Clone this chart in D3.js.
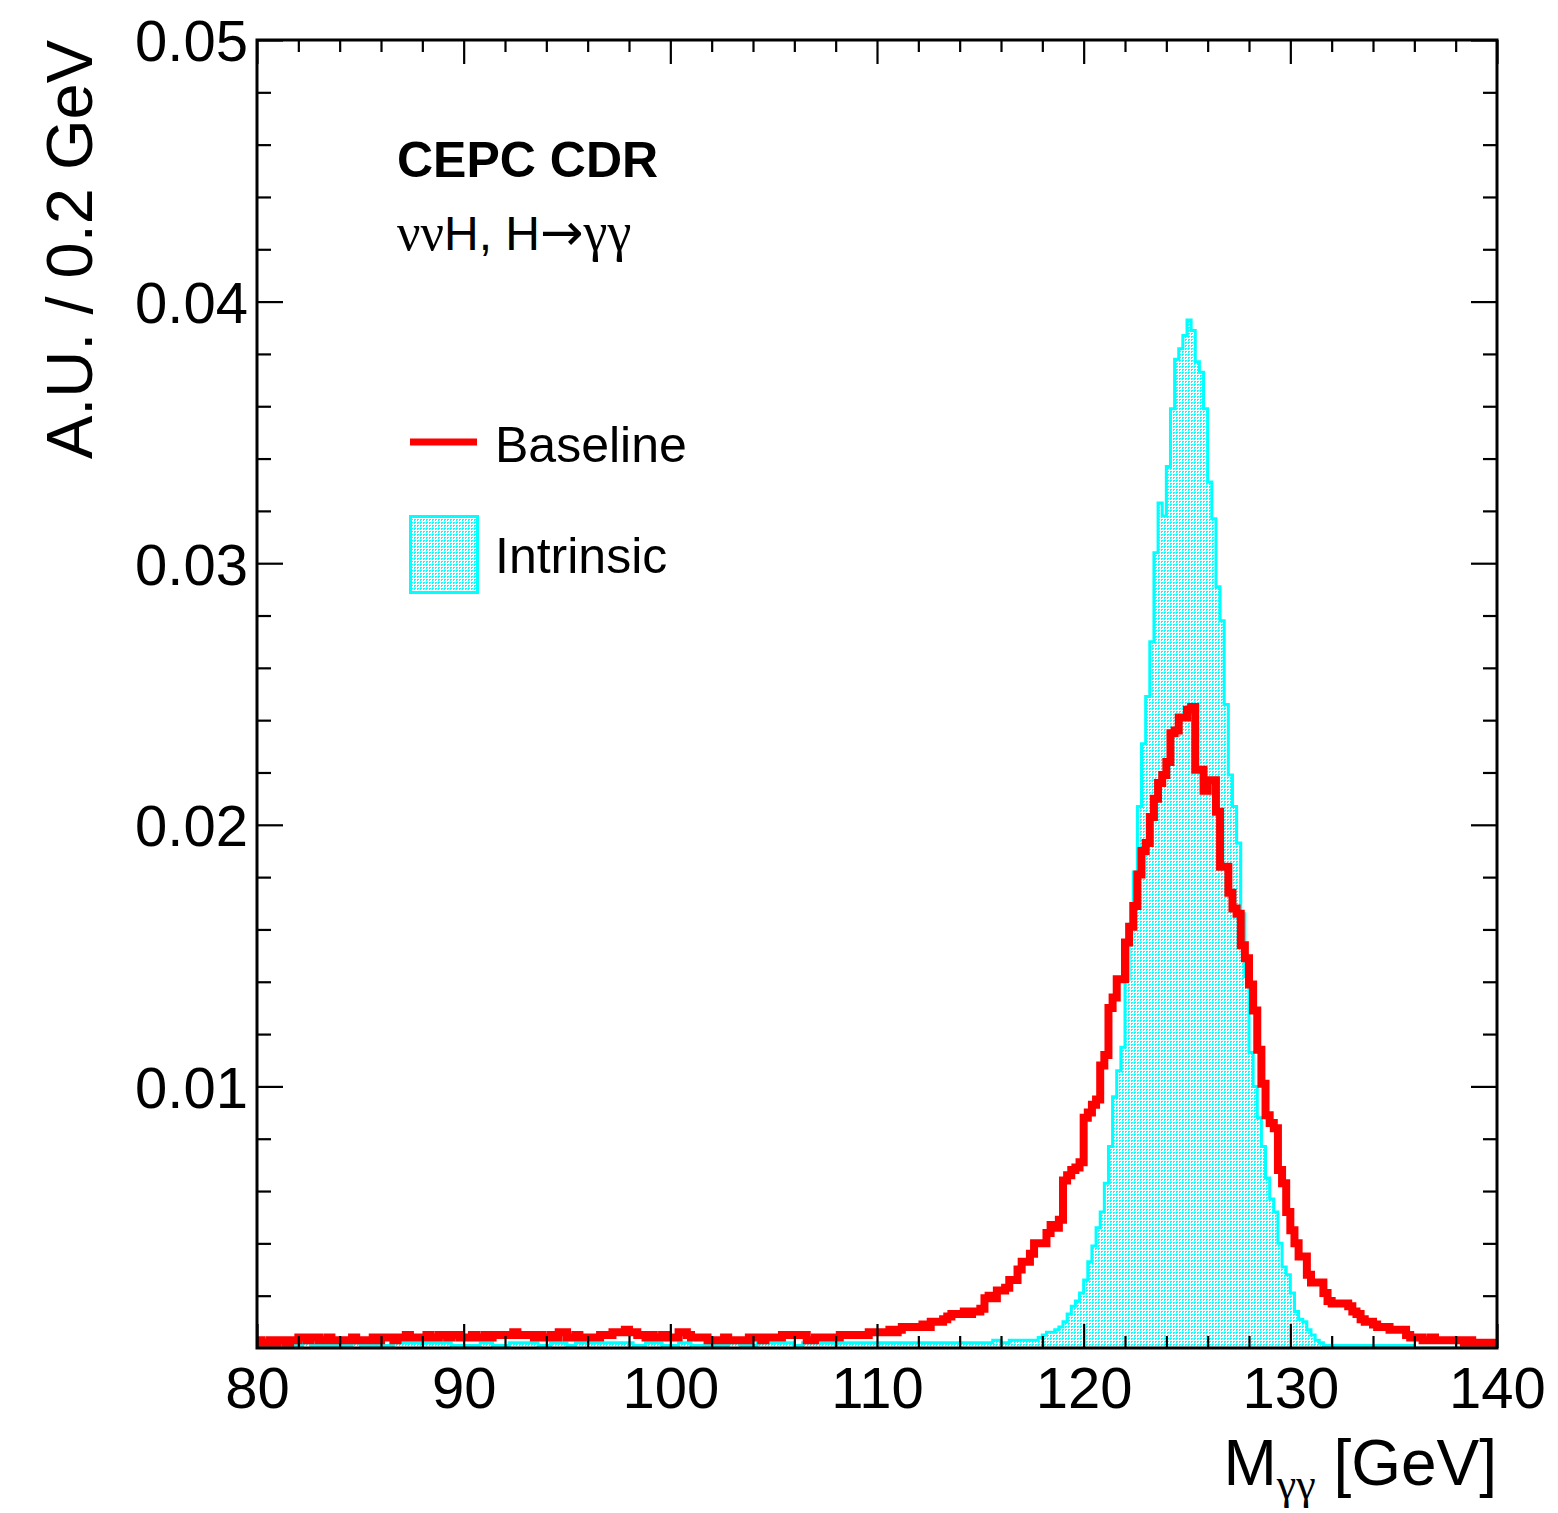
<!DOCTYPE html>
<html>
<head>
<meta charset="utf-8">
<script src="https://cdn.jsdelivr.net/npm/d3@7"></script>
<style>
  html, body { margin: 0; padding: 0; background: #fff; }
  svg { display: block; }
</style>
</head>
<body>
<svg id="chart" width="1558" height="1513"></svg>
<script>
// ---------------- data ----------------
const xMin = 80, xMax = 140, binWidth = 0.2;
const xTickLabels = [80, 90, 100, 110, 120, 130, 140];
const yTickLabels = [0.01, 0.02, 0.03, 0.04, 0.05];
const seriesNames = ["Baseline", "Intrinsic"];

// Baseline (red), one value per 0.2 GeV bin starting at 80 GeV
const baseline = [
  0.0003,0.0002,0.0002,0.0003,0.0002,0.0003,0.0003,0.0002,0.0003,0.0003, // 80-82
  0.0004,0.0004,0.0003,0.0004,0.0004,0.0003,0.0003,0.0004,0.0003,0.0003, // 82-84
  0.0003,0.0003,0.0003,0.0004,0.0003,0.0003,0.0003,0.0003,0.0004,0.0003, // 84-86
  0.0004,0.0004,0.0004,0.0003,0.0004,0.0004,0.0005,0.0004,0.0004,0.0004, // 86-88
  0.0004,0.0005,0.0004,0.0004,0.0005,0.0005,0.0004,0.0005,0.0005,0.0004, // 88-90
  0.0004,0.0004,0.0005,0.0004,0.0004,0.0005,0.0004,0.0005,0.0005,0.0005, // 90-92
  0.0005,0.0005,0.0006,0.0005,0.0005,0.0005,0.0005,0.0004,0.0005,0.0004, // 92-94
  0.0004,0.0005,0.0004,0.0006,0.0006,0.0004,0.0004,0.0005,0.0004,0.0004, // 94-96
  0.0004,0.0004,0.0004,0.0005,0.0005,0.0005,0.0006,0.0006,0.0006,0.0007, // 96-98
  0.0006,0.0006,0.0005,0.0005,0.0004,0.0005,0.0004,0.0004,0.0005,0.0004, // 98-100
  0.0004,0.0004,0.0006,0.0006,0.0005,0.0004,0.0004,0.0004,0.0004,0.0003, // 100-102
  0.0003,0.0003,0.0003,0.0004,0.0003,0.0003,0.0003,0.0003,0.0003,0.0004, // 102-104
  0.0004,0.0004,0.0003,0.0004,0.0004,0.0004,0.0004,0.0005,0.0005,0.0005, // 104-106
  0.0005,0.0005,0.0005,0.0003,0.0003,0.0004,0.0004,0.0004,0.0004,0.0004, // 106-108
  0.0004,0.0005,0.0005,0.0005,0.0005,0.0005,0.0005,0.0005,0.0006,0.0006, // 108-110
  0.0006,0.0006,0.0006,0.0007,0.0006,0.0007,0.0008,0.0008,0.0008,0.0008, // 110-112
  0.0008,0.0009,0.0008,0.0010,0.0010,0.0010,0.0011,0.0012,0.0013,0.0013, // 112-114
  0.0013,0.0014,0.0013,0.0014,0.0014,0.0015,0.0019,0.0020,0.0019,0.0022, // 114-116
  0.0022,0.0023,0.0026,0.0026,0.0030,0.0033,0.0033,0.0036,0.0040,0.0040, // 116-118
  0.0040,0.0044,0.0047,0.0046,0.0049,0.0064,0.0066,0.0068,0.0069,0.0071, // 118-120
  0.0088,0.0090,0.0093,0.0095,0.0108,0.0112,0.0130,0.0134,0.0141,0.0141, // 120-122
  0.0155,0.0161,0.0169,0.0181,0.0190,0.0193,0.0203,0.0210,0.0216,0.0219, // 122-124
  0.0224,0.0235,0.0236,0.0241,0.0241,0.0244,0.0245,0.0221,0.0221,0.0213, // 124-126
  0.0217,0.0217,0.0205,0.0184,0.0184,0.0174,0.0168,0.0166,0.0154,0.0149, // 126-128
  0.0139,0.0129,0.0114,0.0101,0.0089,0.0086,0.0084,0.0068,0.0063,0.0052, // 128-130
  0.0045,0.0040,0.0035,0.0035,0.0028,0.0025,0.0025,0.0025,0.0021,0.0018, // 130-132
  0.0017,0.0017,0.0017,0.0017,0.0016,0.0014,0.0013,0.0011,0.0010,0.0010, // 132-134
  0.0009,0.0008,0.0008,0.0008,0.0007,0.0007,0.0007,0.0007,0.0005,0.0004, // 134-136
  0.0004,0.0004,0.0003,0.0003,0.0004,0.0003,0.0003,0.0003,0.0003,0.0003, // 136-138
  0.0003,0.0003,0.0002,0.0003,0.0002,0.0002,0.0002,0.0002,0.0002,0.0002  // 138-140
];

// Intrinsic (cyan, filled), one value per 0.2 GeV bin starting at 80 GeV
const intrinsic = [
  0.0001,0.0001,0.0001,0.0001,0.0001,0.0001,0.0001,0.0001,0.0001,0.0001, // 80-82
  0.0001,0.0002,0.0002,0.0001,0.0001,0.0001,0.0001,0.0001,0.0001,0.0001, // 82-84
  0.0001,0.0001,0.0001,0.0002,0.0002,0.0001,0.0001,0.0001,0.0001,0.0001, // 84-86
  0.0001,0.0001,0.0001,0.0002,0.0002,0.0002,0.0002,0.0002,0.0002,0.0002, // 86-88
  0.0002,0.0002,0.0002,0.0002,0.0002,0.0002,0.0002,0.0001,0.0001,0.0001, // 88-90
  0.0001,0.0001,0.0001,0.0001,0.0002,0.0002,0.0002,0.0001,0.0001,0.0001, // 90-92
  0.0001,0.0002,0.0002,0.0002,0.0002,0.0002,0.0002,0.0002,0.0001,0.0001, // 92-94
  0.0001,0.0002,0.0002,0.0002,0.0002,0.0001,0.0001,0.0002,0.0002,0.0002, // 94-96
  0.0002,0.0002,0.0002,0.0002,0.0002,0.0002,0.0002,0.0002,0.0002,0.0002, // 96-98
  0.0002,0.0001,0.0001,0.0001,0.0002,0.0002,0.0002,0.0002,0.0001,0.0001, // 98-100
  0.0001,0.0001,0.0002,0.0002,0.0002,0.0001,0.0001,0.0001,0.0001,0.0001, // 100-102
  0.0001,0.0001,0.0001,0.0001,0.0002,0.0002,0.0002,0.0001,0.0001,0.0001, // 102-104
  0.0001,0.0002,0.0002,0.0002,0.0002,0.0002,0.0002,0.0002,0.0002,0.0002, // 104-106
  0.0001,0.0001,0.0002,0.0002,0.0002,0.0002,0.0002,0.0002,0.0002,0.0002, // 106-108
  0.0002,0.0002,0.0002,0.0002,0.0002,0.0002,0.0002,0.0002,0.0002,0.0002, // 108-110
  0.0002,0.0002,0.0002,0.0002,0.0002,0.0002,0.0002,0.0002,0.0002,0.0002, // 110-112
  0.0002,0.0002,0.0002,0.0002,0.0002,0.0002,0.0002,0.0002,0.0002,0.0002, // 112-114
  0.0002,0.0002,0.0002,0.0002,0.0002,0.0002,0.0002,0.0002,0.0003,0.0003, // 114-116
  0.0002,0.0002,0.0003,0.0003,0.0003,0.0003,0.0003,0.0003,0.0003,0.0004, // 116-118
  0.0005,0.0006,0.0006,0.0007,0.0008,0.0010,0.0013,0.0016,0.0018,0.0021, // 118-120
  0.0026,0.0033,0.0039,0.0046,0.0052,0.0063,0.0077,0.0096,0.0106,0.0115, // 120-122
  0.0141,0.0162,0.0182,0.0207,0.0231,0.0249,0.0270,0.0304,0.0323,0.0318, // 122-124
  0.0337,0.0359,0.0378,0.0382,0.0387,0.0393,0.0389,0.0377,0.0373,0.0359, // 124-126
  0.0331,0.0317,0.0291,0.0278,0.0246,0.0219,0.0207,0.0193,0.0166,0.0142, // 126-128
  0.0113,0.0100,0.0088,0.0077,0.0065,0.0057,0.0052,0.0040,0.0031,0.0028, // 128-130
  0.0021,0.0014,0.0011,0.0010,0.0007,0.0005,0.0003,0.0002,0.0001,0.0001, // 130-132
  0.0001,0.0001,0.0001,0.0001,0.0001,0.0001,0.0001,0.0001,0.0001,0.0001, // 132-134
  0.0001,0.0001,0.0001,0.0001,0.0001,0.0001,0.0001,0.0001,0.0001,0.0001, // 134-136
  0,0,0,0,0,0,0,0,0,0,                                                   // 136-138
  0,0,0,0,0,0,0,0,0,0                                                    // 138-140
];

// ---------------- layout ----------------
const W = 1558, H = 1513;
const L = 257, R = 1497, T = 40, B = 1348;
const sans = "'Liberation Sans', Arial, Helvetica, sans-serif";
const serif = "'Liberation Serif', 'DejaVu Serif', 'Times New Roman', serif";
const RED = "#ff0000", CYAN = "#00ffff";

const svg = d3.select("#chart");
const x = d3.scaleLinear().domain([xMin, xMax]).range([L, R]);
const y = d3.scaleLinear().domain([0, 0.05]).range([B, T]);

const defs = svg.append("defs");
const pat = defs.append("pattern").attr("id", "dots")
  .attr("patternUnits", "userSpaceOnUse").attr("width", 3).attr("height", 3);
pat.append("rect").attr("width", 3).attr("height", 3).attr("fill", "#ffffff");
pat.append("rect").attr("x", 0).attr("y", 0).attr("width", 2).attr("height", 1).attr("fill", CYAN);
pat.append("rect").attr("x", 0).attr("y", 1).attr("width", 1).attr("height", 1).attr("fill", CYAN);

defs.append("clipPath").attr("id", "plotclip")
  .append("rect").attr("x", L).attr("y", T).attr("width", R - L).attr("height", B - T);

function binPoints(vals) {
  const pts = [];
  vals.forEach((v, i) => {
    const lo = xMin + i * binWidth;
    pts.push([lo, v]);
    pts.push([lo + binWidth, v]);
  });
  return pts;
}

const gH = svg.append("g").attr("clip-path", "url(#plotclip)");

// Intrinsic: filled histogram
const ptsI = binPoints(intrinsic);
gH.append("path")
  .attr("d", d3.area().x(d => x(d[0])).y0(y(0)).y1(d => y(d[1]))(ptsI))
  .attr("fill", "url(#dots)").attr("stroke", "none");
gH.append("path")
  .attr("d", d3.line().x(d => x(d[0])).y(d => y(d[1]))(ptsI))
  .attr("fill", "none").attr("stroke", CYAN).attr("stroke-width", 3)
  .attr("stroke-linejoin", "miter");

// Baseline: thick red step line
const ptsB = binPoints(baseline);
gH.append("path")
  .attr("d", d3.line().x(d => x(d[0])).y(d => y(d[1]))(ptsB))
  .attr("fill", "none").attr("stroke", RED).attr("stroke-width", 8)
  .attr("stroke-linejoin", "miter").attr("stroke-miterlimit", 2);

// ---------------- axes ----------------
const xMinor = d3.range(xMin, xMax + 0.001, 2).filter(v => !xTickLabels.includes(v));
const yMinor = d3.range(1, 25).map(k => +(k * 0.002).toFixed(3)).filter(v => !yTickLabels.some(t => Math.abs(t - v) < 1e-9));

function styleAxis(g) {
  g.select(".domain").remove();
  g.selectAll(".tick line").attr("stroke", "#000").attr("stroke-width", 2.2);
}

// bottom
svg.append("g").attr("transform", `translate(0,${B})`)
  .call(d3.axisBottom(x).tickValues(xTickLabels).tickSize(-24).tickPadding(19).tickFormat(d3.format("d")))
  .call(styleAxis)
  .call(g => g.selectAll("text").attr("font-family", sans).attr("font-size", 58).attr("fill", "#000"));
svg.append("g").attr("transform", `translate(0,${B})`)
  .call(d3.axisBottom(x).tickValues(xMinor).tickSize(-12).tickFormat(""))
  .call(styleAxis);
// top
svg.append("g").attr("transform", `translate(0,${T})`)
  .call(d3.axisTop(x).tickValues(xTickLabels).tickSize(-24).tickFormat(""))
  .call(styleAxis);
svg.append("g").attr("transform", `translate(0,${T})`)
  .call(d3.axisTop(x).tickValues(xMinor).tickSize(-12).tickFormat(""))
  .call(styleAxis);
// left
svg.append("g").attr("transform", `translate(${L},0)`)
  .call(d3.axisLeft(y).tickValues(yTickLabels).tickSize(-26).tickPadding(9).tickFormat(d3.format(".2f")))
  .call(styleAxis)
  .call(g => g.selectAll("text").attr("font-family", sans).attr("font-size", 58).attr("fill", "#000").attr("dy", "0.36em"));
svg.append("g").attr("transform", `translate(${L},0)`)
  .call(d3.axisLeft(y).tickValues(yMinor).tickSize(-14).tickFormat(""))
  .call(styleAxis);
// right
svg.append("g").attr("transform", `translate(${R},0)`)
  .call(d3.axisRight(y).tickValues(yTickLabels).tickSize(-26).tickFormat(""))
  .call(styleAxis);
svg.append("g").attr("transform", `translate(${R},0)`)
  .call(d3.axisRight(y).tickValues(yMinor).tickSize(-14).tickFormat(""))
  .call(styleAxis);

// frame
svg.append("rect").attr("x", L).attr("y", T).attr("width", R - L).attr("height", B - T)
  .attr("fill", "none").attr("stroke", "#000").attr("stroke-width", 3);

// ---------------- titles ----------------
svg.append("text")
  .attr("transform", `translate(92,${T}) rotate(-90)`)
  .attr("text-anchor", "end").attr("font-family", sans).attr("font-size", 65)
  .text("A.U. / 0.2 GeV");

const xt = svg.append("text").attr("x", R).attr("y", 1485)
  .attr("text-anchor", "end").attr("font-family", sans).attr("font-size", 64);
xt.append("tspan").text("M");
xt.append("tspan").attr("font-family", serif).attr("font-size", 44).attr("dy", 14).text("γγ");
xt.append("tspan").attr("dy", -14).text(" [GeV]");

// ---------------- annotations ----------------
svg.append("text").attr("x", 397).attr("y", 177)
  .attr("font-family", sans).attr("font-weight", "bold").attr("font-size", 50)
  .text("CEPC CDR");

const sub = svg.append("text").attr("x", 397).attr("y", 250)
  .attr("font-family", sans).attr("font-size", 48);
sub.append("tspan").attr("font-family", serif).attr("font-size", 52).text("νν");
sub.append("tspan").text("H, H");
sub.append("tspan").attr("font-family", "'DejaVu Sans', sans-serif").attr("font-size", 52).text("→");
sub.append("tspan").attr("font-family", serif).attr("font-size", 54).text("γγ");

// ---------------- legend ----------------
svg.append("line").attr("x1", 410).attr("x2", 477).attr("y1", 442).attr("y2", 442)
  .attr("stroke", RED).attr("stroke-width", 7);
svg.append("text").attr("x", 495).attr("y", 462)
  .attr("font-family", sans).attr("font-size", 50).text(seriesNames[0]);

svg.append("rect").attr("x", 410.5).attr("y", 516.5).attr("width", 67).attr("height", 76)
  .attr("fill", "url(#dots)").attr("stroke", CYAN).attr("stroke-width", 3);
svg.append("text").attr("x", 495).attr("y", 573)
  .attr("font-family", sans).attr("font-size", 50).text(seriesNames[1]);
</script>
</body>
</html>
